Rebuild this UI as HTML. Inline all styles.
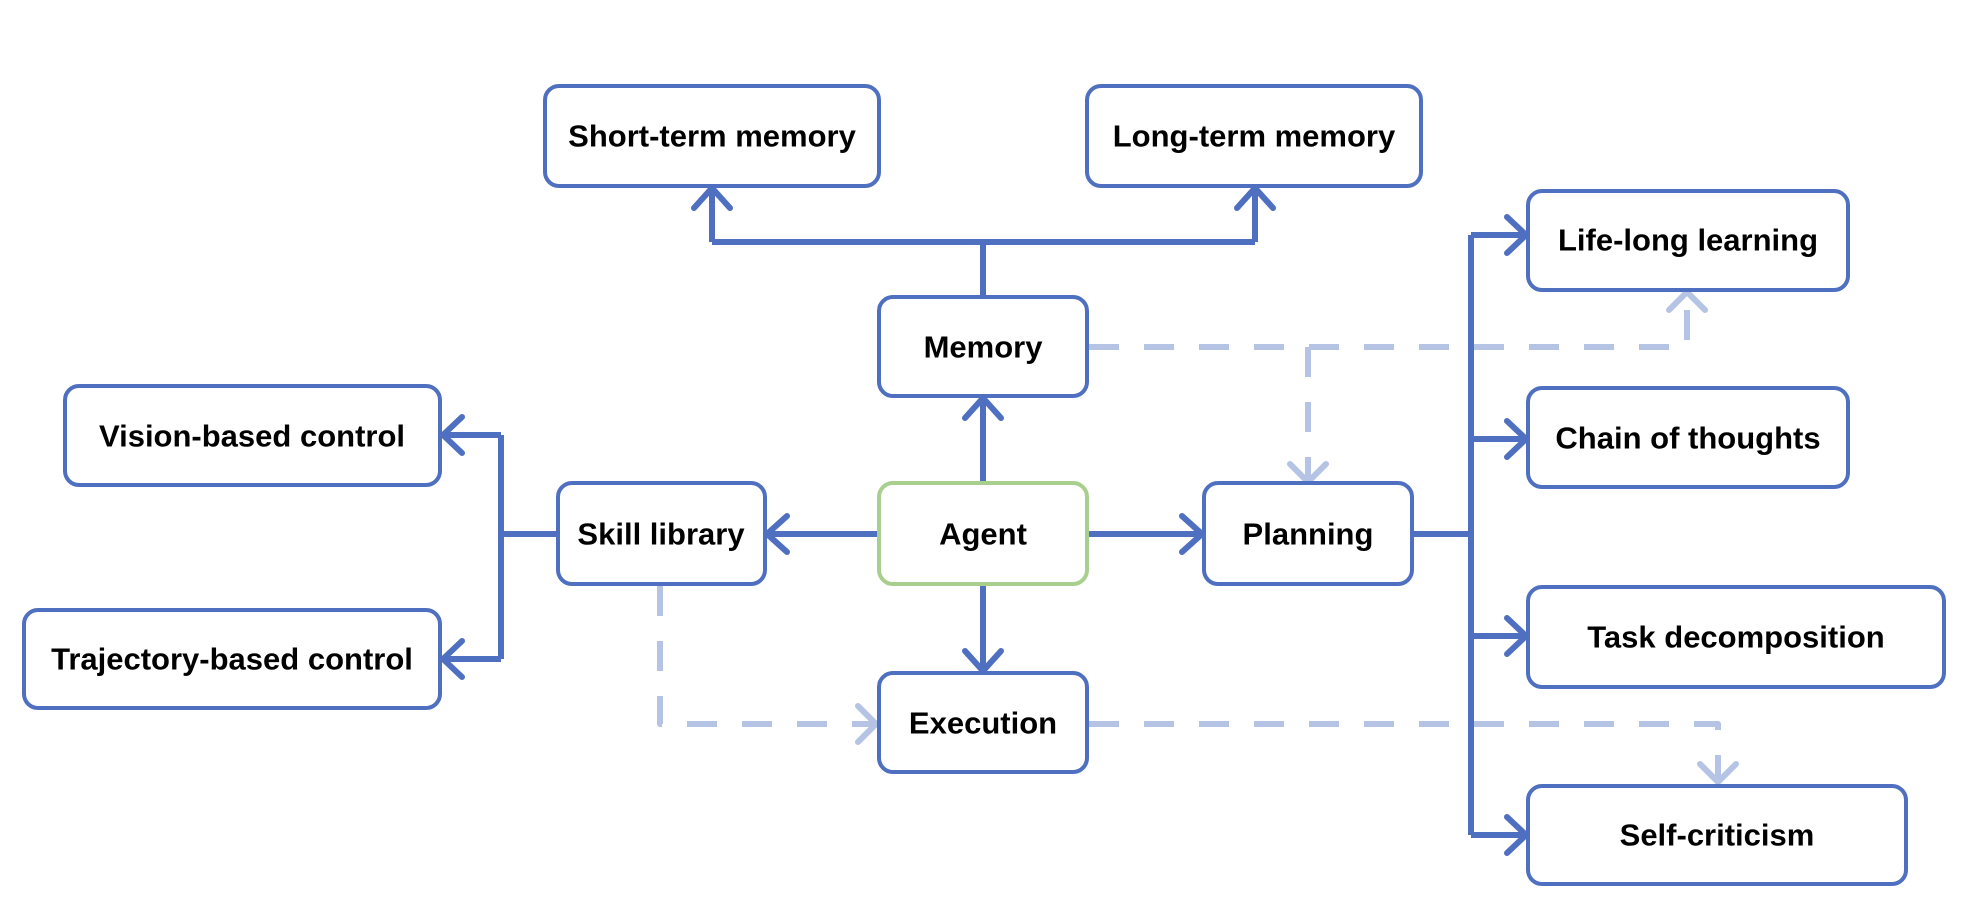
<!DOCTYPE html>
<html><head><meta charset="utf-8"><style>
html,body{margin:0;padding:0;background:#fff;}
svg{display:block}
text{font-family:"Liberation Sans",Arial,sans-serif;font-weight:bold;font-size:31px;fill:#000;text-anchor:middle;dominant-baseline:central}
</style></head><body>
<svg width="1984" height="922" viewBox="0 0 1984 922" xmlns="http://www.w3.org/2000/svg">
<g fill="none" stroke-linecap="round" stroke-linejoin="round">
<g stroke="#4f6fc1" stroke-width="6">
<path d="M983 297 V242 M712 242 H1255 M712 242 V190 M1255 242 V190" stroke-linecap="butt"/>
<path d="M694 208 L712 188 L730 208 M1237 208 L1255 188 L1273 208"/>
<path d="M983 483 V398 M965 418 L983 398 L1001 418"/>
<path d="M983 584 V671 M965 651 L983 671 L1001 651"/>
<path d="M879 534 H767 M787 516 L767 534 L787 552"/>
<path d="M1087 534 H1202 M1182 516 L1202 534 L1182 552"/>
<path d="M558 534 H501 M501 435 V659 M501 435 H443 M501 659 H443" stroke-linecap="butt"/>
<path d="M462 417 L443 435 L462 453 M462 641 L443 659 L462 677"/>
<path d="M1412 534 H1471 M1471 235 V835 M1471 235 H1526 M1471 439 H1526 M1471 636 H1526 M1471 835 H1526" stroke-linecap="butt"/>
<path d="M1507 217 L1526 235 L1507 253 M1507 421 L1526 439 L1507 457 M1507 618 L1526 636 L1507 654 M1507 817 L1526 835 L1507 853"/>
</g>
<g stroke="#b5c3e5" stroke-width="6">
<path d="M1089 347 H1687 V296 M1308 347 V478" stroke-dasharray="30 25" stroke-linecap="butt"/>
<path d="M1669 310 L1687 292 L1705 310 M1290 464 L1308 482 L1326 464"/>
<path d="M660 586 V724 H875 M1089 724 H1718 V782" stroke-dasharray="30 25" stroke-linecap="butt"/>
<path d="M858 706 L876 724 L858 742 M1700 764 L1718 782 L1736 764"/>
</g>
<g stroke="#4f6fc1" stroke-width="4" fill="#fff">
<rect x="545" y="86" width="334" height="100" rx="14"/>
<rect x="1087" y="86" width="334" height="100" rx="14"/>
<rect x="879" y="297" width="208" height="99" rx="14"/>
<rect x="65" y="386" width="375" height="99" rx="14"/>
<rect x="558" y="483" width="207" height="101" rx="14"/>
<rect x="1204" y="483" width="208" height="101" rx="14"/>
<rect x="24" y="610" width="416" height="98" rx="14"/>
<rect x="879" y="673" width="208" height="99" rx="14"/>
<rect x="1528" y="191" width="320" height="99" rx="14"/>
<rect x="1528" y="388" width="320" height="99" rx="14"/>
<rect x="1528" y="587" width="416" height="100" rx="14"/>
<rect x="1528" y="786" width="378" height="98" rx="14"/>
<rect x="879" y="483" width="208" height="101" rx="14" stroke="#a9cf8f"/>
</g>
</g>
<text x="712" y="136">Short-term memory</text>
<text x="1254" y="136">Long-term memory</text>
<text x="983" y="347">Memory</text>
<text x="252" y="436">Vision-based control</text>
<text x="661" y="534">Skill library</text>
<text x="983" y="534">Agent</text>
<text x="1308" y="534">Planning</text>
<text x="232" y="659">Trajectory-based control</text>
<text x="983" y="723">Execution</text>
<text x="1688" y="240">Life-long learning</text>
<text x="1688" y="438">Chain of thoughts</text>
<text x="1736" y="637">Task decomposition</text>
<text x="1717" y="835">Self-criticism</text>
</svg>
</body></html>
